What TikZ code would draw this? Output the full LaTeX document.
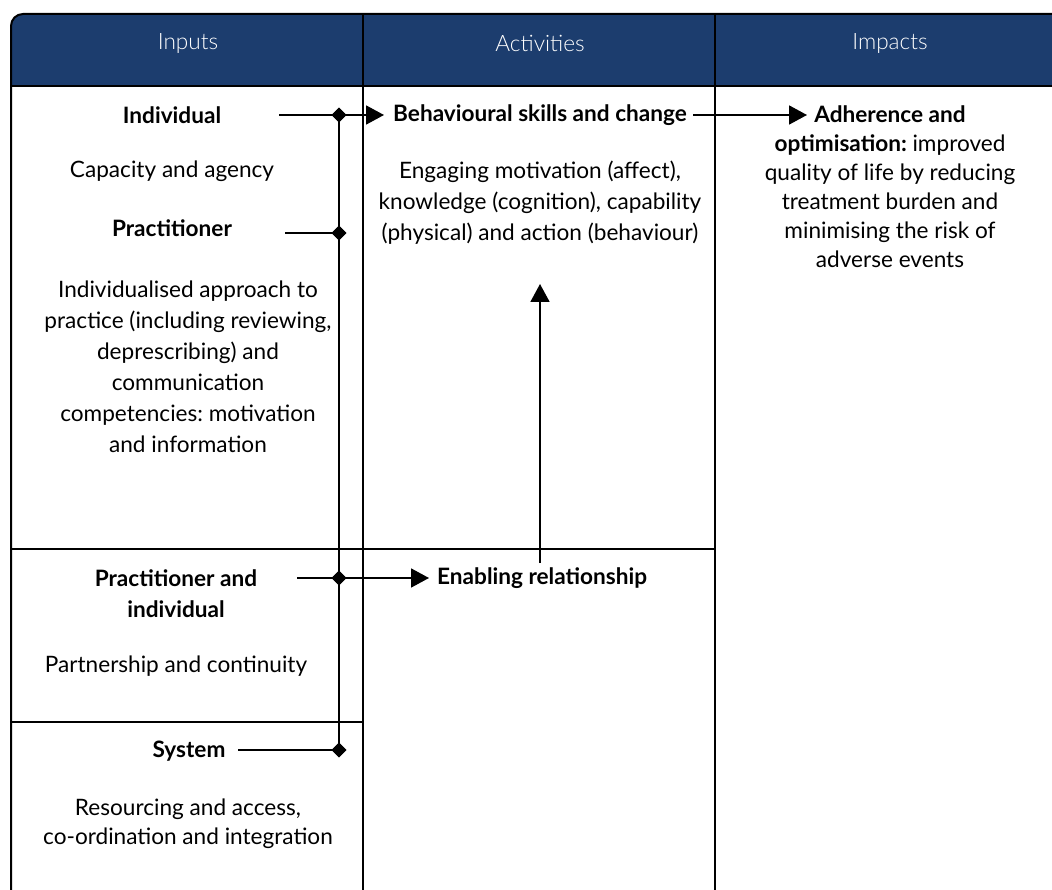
\documentclass[tikz,border=0pt]{standalone}
\usepackage{fontspec}
\setmainfont{Lato}
\newfontfamily\latolight{Lato Light}
\usetikzlibrary{arrows.meta,shapes.geometric}
\definecolor{hdrblue}{RGB}{28,61,110}
\tikzset{
  txt/.style={align=center,inner sep=0pt,font=\fontsize{22.6}{31}\selectfont},
  txtb/.style={txt,font=\fontsize{22.6}{31}\selectfont\bfseries},
  hdr/.style={inner sep=0pt,text=white,font=\latolight\fontsize{22.6}{27}\selectfont},
  grid/.style={line width=1.6pt,black},
  conn/.style={line width=1.8pt,black},
  arr/.style={conn,-{Triangle[length=18pt,width=19pt]}},
  junc/.style={diamond,fill=black,inner sep=0pt,minimum size=15pt}
}
\begin{document}
\frenchspacing
\begin{tikzpicture}[x=1pt,y=-1pt]
\useasboundingbox (0,0) rectangle (1052,890);
\clip (0,0) rectangle (1052,890);
% header band
\fill[hdrblue] (11,86) -- (11,26) arc[start angle=180,end angle=270,radius=12] -- (1070,14) -- (1070,86) -- cycle;
% outer frame
\draw[line width=2pt] (11,900) -- (11,26) arc[start angle=180,end angle=270,radius=12] -- (1070,14);
% grid
\draw[grid] (11,86) -- (1070,86);
\draw[grid] (363,14) -- (363,900);
\draw[grid] (715,14) -- (715,900);
\draw[grid] (11,549) -- (715,549);
\draw[grid] (11,722) -- (363,722);
% headers
\node[hdr] (hin) at (188,43) {Inputs};
\node[hdr] (hac) at (540,43) {Activities};
\node[hdr] (him) at (890,43) {Impacts};
% inputs
\node[txtb] (indiv) at (172,115) {Individual};
\node[txt] (cap) at (172,171) {Capacity and agency};
\node[txtb] (pract) at (172,228) {Practitioner};
\node[txt] (indapp) at (188,366.5) {Individualised approach to\\practice (including reviewing,\\deprescribing) and\\communication\\competencies: motivation\\and information};
\node[txtb] (pi) at (176,593.5) {Practitioner and\\individual};
\node[txt] (partner) at (176,666) {Partnership and continuity};
\node[txtb] (sys) at (189,751) {System};
\node[txt,font=\fontsize{22.6}{29}\selectfont] (res) at (188,823.5) {Resourcing and access,\\co-ordination and integration};
% activities
\node[txtb,anchor=west] (beh) at (393,115) {Behavioural skills and change};
\node[txt] (eng) at (540,203) {Engaging motivation (affect),\\knowledge (cognition), capability\\(physical) and action (behaviour)};
\node[txtb,anchor=west] (enab) at (437,578) {Enabling relationship};
% impacts
\node[txt,font=\fontsize{22.6}{29}\selectfont] (adh) at (890,187) {\textbf{Adherence and}\\\textbf{optimisation:} improved\\quality of life by reducing\\treatment burden and\\minimising the risk of\\adverse events};
% junctions
\node[junc] (j1) at (339,115) {};
\node[junc] (j2) at (339,233) {};
\node[junc] (j3) at (339,578) {};
\node[junc] (j4) at (339,750) {};
\coordinate (s1) at (279,115);
\coordinate (s2) at (285,233);
\coordinate (s3) at (297,578);
\coordinate (s4) at (238,750);
\coordinate (t1) at (384,115);
\coordinate (t3) at (429,578);
\coordinate (b1) at (693,115);
\coordinate (t2) at (807,115);
\coordinate (v0) at (540,563);
\coordinate (v1) at (540,284);
% connectors
\draw[conn] (j1.center) -- (j4.center);
\draw[conn] (s2) -- (j2.center);
\draw[conn] (s4) -- (j4.center);
\draw[arr] (s1) -- (j1.center) -- (t1);
\draw[arr] (s3) -- (j3.center) -- (t3);
\draw[arr] (b1) -- (t2);
\draw[arr] (v0) -- (v1);
\node[junc] at (j1) {};
\node[junc] at (j2) {};
\node[junc] at (j3) {};
\node[junc] at (j4) {};
\end{tikzpicture}
\end{document}
